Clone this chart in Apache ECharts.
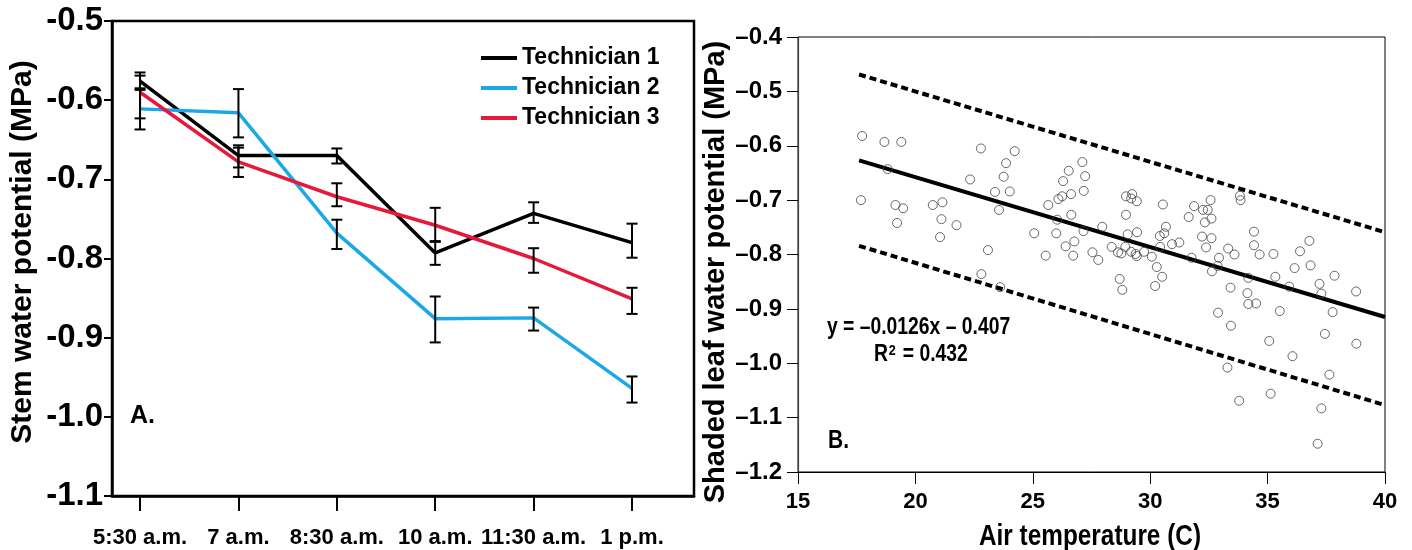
<!DOCTYPE html>
<html>
<head>
<meta charset="utf-8">
<script src="https://cdn.jsdelivr.net/npm/echarts@6/dist/echarts.min.js"></script>
<style>
  html, body { margin: 0; padding: 0; background: #fff; }
  #chart { width: 1412px; height: 550px; }
</style>
</head>
<body>
<div id="chart"></div>
<script>
// panel A - stem water potential through the morning
var times = ['5:30 a.m.', '7 a.m.', '8:30 a.m.', '10 a.m.', '11:30 a.m.', '1 p.m.'];
var tech1 = [-0.576, -0.670, -0.670, -0.793, -0.743, -0.780];
var tech2 = [-0.611, -0.616, -0.768, -0.876, -0.875, -0.964];
var tech3 = [-0.590, -0.678, -0.722, -0.758, -0.800, -0.851];
// error bar ends (low, high)
var tech1Low  = [-0.587, -0.685, -0.680, -0.808, -0.755, -0.799];
var tech1High = [-0.565, -0.657, -0.661, -0.778, -0.729, -0.756];
var tech2Low  = [-0.637, -0.647, -0.788, -0.906, -0.891, -0.982];
var tech2High = [-0.585, -0.586, -0.751, -0.848, -0.862, -0.949];
var tech3Low  = [-0.623, -0.697, -0.734, -0.779, -0.818, -0.870];
var tech3High = [-0.569, -0.660, -0.705, -0.736, -0.787, -0.837];

// panel B - shaded leaf water potential vs air temperature
var airTemp = [
  17.73, 18.68, 19.40, 22.79, 24.23, 23.86, 18.82, 22.33, 23.76, 23.39, 24.02, 17.68,
  19.15, 19.48, 20.74, 21.15, 23.56, 21.11, 19.22, 21.75, 21.05, 23.09, 22.81, 23.61,
  27.11, 26.53, 27.23, 26.29, 27.17, 26.63, 26.25, 26.09, 25.66, 28.97, 29.23, 29.43,
  29.19, 30.54, 31.87, 31.64, 26.64, 28.97, 26.04, 27.96, 27.16, 25.06, 26.00, 29.44,
  29.04, 30.67, 30.60, 30.41, 26.77, 26.40, 30.93, 31.24, 30.42, 28.36, 28.94, 25.55,
  26.72, 27.54, 27.79, 28.63, 28.77, 29.19, 29.38, 29.43, 29.74, 30.07, 30.28, 30.51,
  28.70, 28.81, 30.21, 31.76,
  33.82, 33.85, 32.57, 32.25, 32.45, 32.61, 32.33, 32.21, 32.61, 32.38, 34.42, 34.42,
  33.32, 33.59, 34.66, 35.25, 32.93, 36.78, 36.38, 32.87, 32.63, 36.15, 36.83, 35.33,
  34.18, 37.85, 37.21, 33.42, 35.92, 38.77,
  34.14, 34.18, 34.51, 37.29, 32.89, 35.52, 37.77, 33.44, 35.07, 37.44, 38.78, 36.06,
  33.29, 37.63, 33.79, 35.13, 37.29, 37.13
];
var leafPsi = [
  -0.582, -0.593, -0.593, -0.605, -0.610, -0.632, -0.643, -0.662, -0.657, -0.685, -0.684, -0.700,
  -0.709, -0.715, -0.709, -0.704, -0.718, -0.735, -0.742, -0.746, -0.768, -0.792, -0.836, -0.860,
  -0.630, -0.646, -0.656, -0.665, -0.683, -0.689, -0.693, -0.698, -0.709, -0.693, -0.689, -0.702,
  -0.697, -0.708, -0.711, -0.731, -0.727, -0.727, -0.736, -0.749, -0.757, -0.761, -0.761, -0.759,
  -0.763, -0.749, -0.761, -0.766, -0.776, -0.785, -0.781, -0.778, -0.786, -0.786, -0.786, -0.802,
  -0.802, -0.796, -0.810, -0.796, -0.798, -0.795, -0.799, -0.803, -0.795, -0.804, -0.823, -0.841,
  -0.845, -0.865, -0.858, -0.806,
  -0.692, -0.700, -0.700, -0.718, -0.718, -0.734, -0.741, -0.767, -0.770, -0.787, -0.758, -0.783,
  -0.789, -0.800, -0.800, -0.799, -0.806, -0.775, -0.794, -0.821, -0.831, -0.825, -0.820, -0.841,
  -0.843, -0.839, -0.854, -0.861, -0.859, -0.868,
  -0.871, -0.891, -0.890, -0.872, -0.907, -0.904, -0.906, -0.931, -0.959, -0.946, -0.964, -0.987,
  -1.008, -1.021, -1.069, -1.056, -1.083, -1.148
];
// fitted line y = -0.0126x - 0.407 and its bands
var fitX = [17.6, 40];
var fitY = [-0.627, -0.915];
var upperY = [-0.469, -0.759];
var lowerY = [-0.784, -1.077];

var FONT = "'Liberation Sans', Arial, sans-serif";

function pairs(xs, ys) {
  return xs.map(function (x, i) { return [x, ys[i]]; });
}
function bars(low, high) {
  return low.map(function (v, i) { return [i, v, high[i]]; });
}

function renderErrorBar(params, api) {
  var x = api.value(0);
  var lo = api.coord([x, api.value(1)]);
  var hi = api.coord([x, api.value(2)]);
  var w = 5.5;
  var st = { stroke: '#000', lineWidth: 2 };
  return {
    type: 'group',
    children: [
      { type: 'line', shape: { x1: lo[0], y1: lo[1], x2: hi[0], y2: hi[1] }, style: st },
      { type: 'line', shape: { x1: lo[0] - w, y1: lo[1], x2: lo[0] + w, y2: lo[1] }, style: st },
      { type: 'line', shape: { x1: hi[0] - w, y1: hi[1], x2: hi[0] + w, y2: hi[1] }, style: st }
    ]
  };
}

// condensed looking text (the figure uses a narrow face)
function narrowText(str, x, y, size, align, rich) {
  return {
    type: 'text', x: x, y: y, scaleX: 0.84,
    style: { text: str, font: 'bold ' + size + 'px ' + FONT, fill: '#000', align: align || 'left', verticalAlign: 'middle', rich: rich }
  };
}

var chart = echarts.init(document.getElementById('chart'));
var idx = times.map(function (t, i) { return i; });

function techLine(name, vals, color) {
  return {
    name: name, type: 'line', xAxisIndex: 0, yAxisIndex: 0,
    data: pairs(idx, vals), showSymbol: false, color: color,
    lineStyle: { width: 3.5, color: color }, z: 3
  };
}
function techBars(low, high) {
  return {
    type: 'custom', xAxisIndex: 0, yAxisIndex: 0, renderItem: renderErrorBar,
    data: bars(low, high), encode: { x: 0, y: [1, 2] }, z: 5
  };
}

var option = {
  animation: false,
  backgroundColor: '#fff',
  grid: [
    { left: 112, top: 21, width: 582, height: 475, show: true, borderColor: '#000', borderWidth: 2.5 },
    { left: 798, top: 37, width: 587, height: 435, show: true, borderColor: '#000', borderWidth: 1 }
  ],
  xAxis: [
    {
      gridIndex: 0, type: 'value', min: -0.285, max: 5.63,
      splitLine: { show: false },
      axisLine: { onZero: false, lineStyle: { color: '#000', width: 2.5 } },
      axisTick: { customValues: idx, length: 15, lineStyle: { color: '#000', width: 2 } },
      axisLabel: {
        customValues: idx, margin: 31, color: '#000',
        fontFamily: FONT, fontWeight: 'bold', fontSize: 22,
        formatter: function (v) { return times[Math.round(v)]; }
      }
    },
    {
      gridIndex: 1, type: 'value', min: 15, max: 40, interval: 5,
      splitLine: { show: false },
      axisLine: { onZero: false, lineStyle: { color: '#000', width: 1.2 } },
      axisTick: { length: 12, lineStyle: { color: '#000', width: 1 } },
      axisLabel: { margin: 19, color: '#000', fontFamily: FONT, fontWeight: 'bold', fontSize: 22 }
    }
  ],
  yAxis: [
    {
      gridIndex: 0, type: 'value', min: -1.1, max: -0.5, interval: 0.1,
      splitLine: { show: false },
      axisLine: { onZero: false, lineStyle: { color: '#000', width: 2.5 } },
      axisTick: { length: 8, lineStyle: { color: '#000', width: 2 } },
      axisLabel: {
        margin: 9, color: '#000', fontFamily: FONT, fontWeight: 'bold', fontSize: 33,
        formatter: function (v) { return v.toFixed(1); }
      }
    },
    {
      gridIndex: 1, type: 'value', min: -1.2, max: -0.4, interval: 0.1,
      splitLine: { show: false },
      axisLine: { onZero: false, lineStyle: { color: '#444', width: 1.2 } },
      axisTick: { length: 11, lineStyle: { color: '#000', width: 1 } },
      axisLabel: {
        margin: 16, color: '#000', fontFamily: FONT, fontWeight: 'bold', fontSize: 24,
        formatter: function (v) { return '\u2013' + Math.abs(v).toFixed(1); }
      }
    }
  ],
  legend: {
    left: 476, top: 41, orient: 'vertical', itemGap: 6,
    icon: 'rect', itemWidth: 36, itemHeight: 4,
    textStyle: { color: '#000', fontFamily: FONT, fontWeight: 'bold', fontSize: 23, lineHeight: 24 },
    data: ['Technician 1', 'Technician 2', 'Technician 3']
  },
  graphic: [
    { type: 'text', x: 23, y: 252, rotation: Math.PI / 2,
      style: { text: 'Stem water potential (MPa)', font: 'bold 30px ' + FONT, fill: '#000', align: 'center', verticalAlign: 'middle' } },
    { type: 'text', x: 716, y: 272, rotation: Math.PI / 2,
      style: { text: 'Shaded leaf water potential (MPa)', font: 'bold 29px ' + FONT, fill: '#000', align: 'center', verticalAlign: 'middle' } },
    { type: 'text', x: 130, y: 416,
      style: { text: 'A.', font: 'bold 25px ' + FONT, fill: '#000', align: 'left', verticalAlign: 'middle' } },
    narrowText('B.', 828, 441, 25),
    narrowText('y = \u20130.0126x \u2013 0.407', 827, 328, 23),
    narrowText('R{sup|2} = 0.432', 874, 355, 23, 'left', {
      sup: { font: 'bold 15px ' + FONT, fill: '#000', verticalAlign: 'top', padding: [0, 2, 8, 1] }
    }),
    narrowText('Air temperature (C)', 1090, 537, 29, 'center')
  ],
  series: [
    techLine('Technician 1', tech1, '#000000'),
    techLine('Technician 2', tech2, '#1aa8e6'),
    techLine('Technician 3', tech3, '#e6193a'),
    techBars(tech1Low, tech1High),
    techBars(tech2Low, tech2High),
    techBars(tech3Low, tech3High),
    {
      type: 'scatter', xAxisIndex: 1, yAxisIndex: 1, data: pairs(airTemp, leafPsi),
      symbol: 'circle', symbolSize: 9, z: 4,
      itemStyle: { color: 'rgba(255,255,255,0)', borderColor: '#444', borderWidth: 1 }
    },
    {
      type: 'line', xAxisIndex: 1, yAxisIndex: 1, data: pairs(fitX, fitY), showSymbol: false,
      lineStyle: { color: '#000', width: 4 }, z: 3
    },
    {
      type: 'line', xAxisIndex: 1, yAxisIndex: 1, data: pairs(fitX, upperY), showSymbol: false,
      lineStyle: { color: '#000', width: 4, type: [7, 4] }, z: 3
    },
    {
      type: 'line', xAxisIndex: 1, yAxisIndex: 1, data: pairs(fitX, lowerY), showSymbol: false,
      lineStyle: { color: '#000', width: 4, type: [7, 4] }, z: 3
    }
  ]
};

chart.setOption(option);
window.addEventListener('resize', function () { chart.resize(); });
</script>
</body>
</html>
